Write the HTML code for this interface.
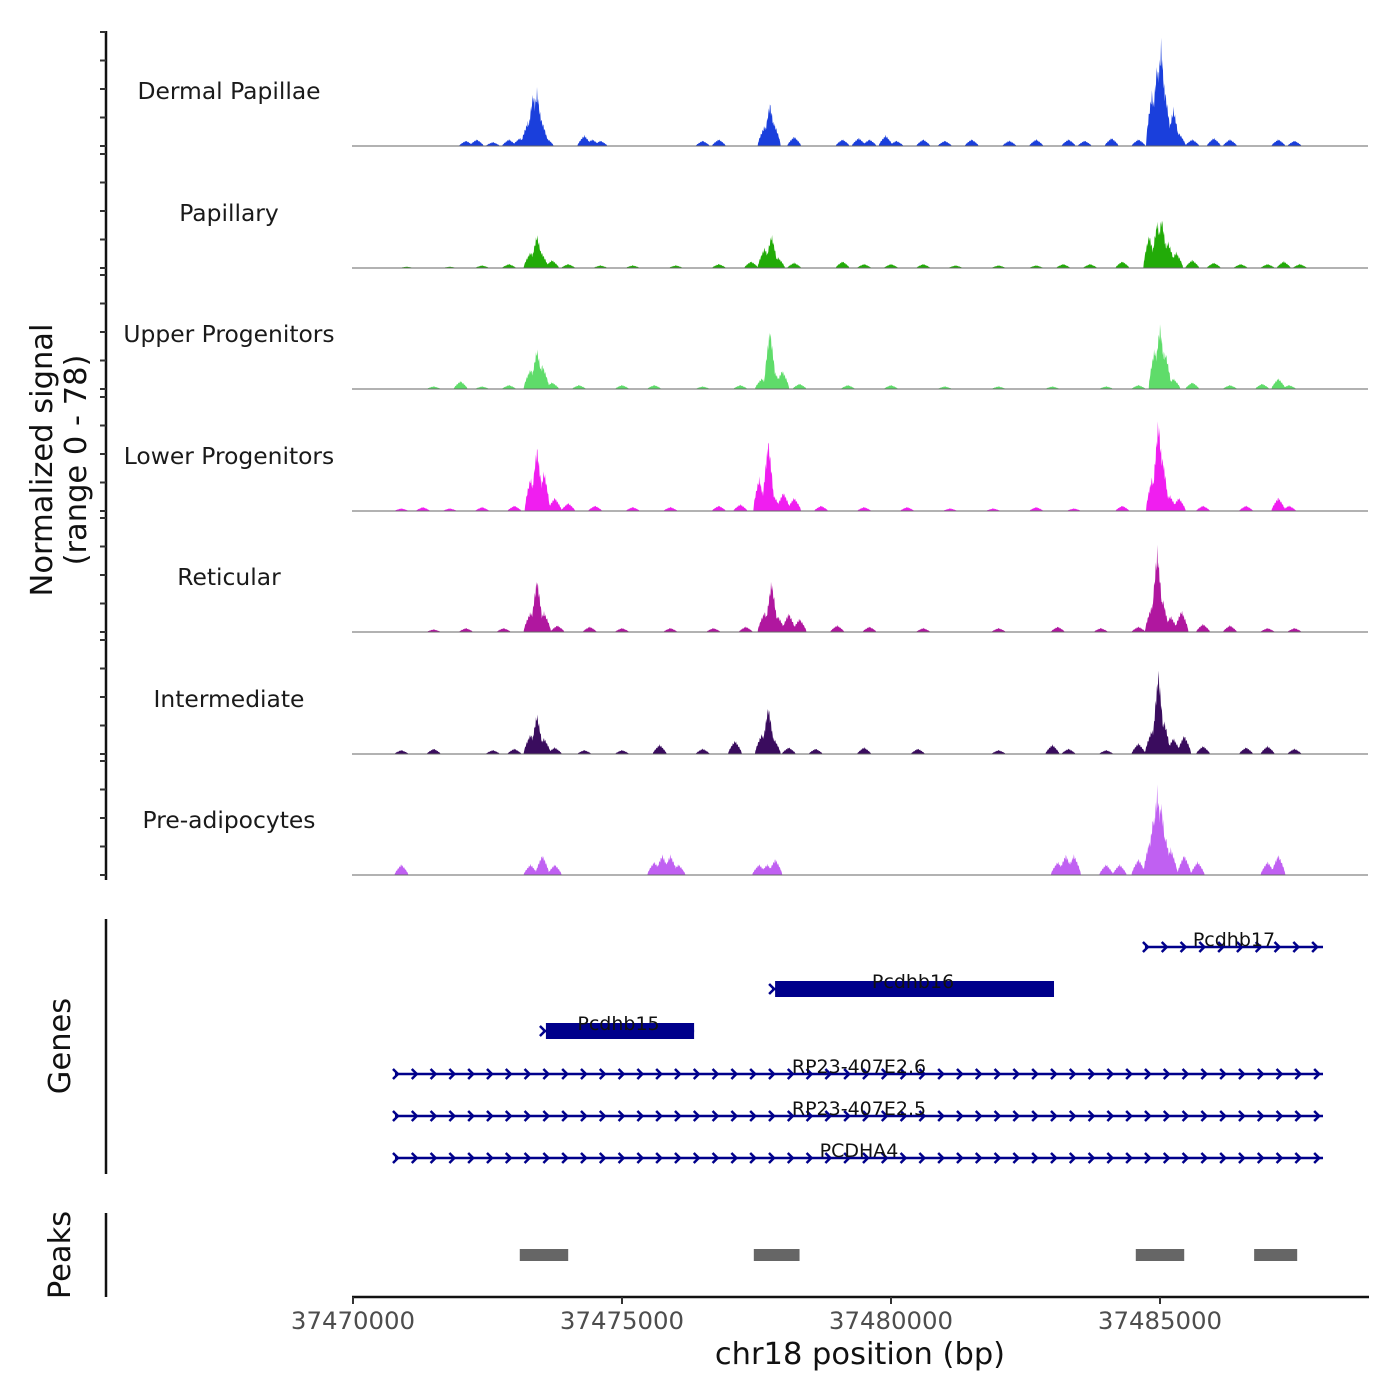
<!DOCTYPE html>
<html><head><meta charset="utf-8">
<style>
html,body{margin:0;padding:0;background:#fff;}
svg{display:block;font-family:"DejaVu Sans","Liberation Sans",sans-serif;}
</style></head>
<body>
<svg id="chart" width="1400" height="1400" viewBox="0 0 1400 1400" xmlns="http://www.w3.org/2000/svg">
<g id="tracks"></g>
<g id="genes"></g>
<g id="peaks"></g>
<g id="axes"></g>
</svg>
<script>
// ----- data (positions in kb offset from 37470000, values 0-78) -----
const trackNames = ["Dermal Papillae","Papillary","Upper Progenitors","Lower Progenitors","Reticular","Intermediate","Pre-adipocytes"];
const trackColors = ["#1a3fdc","#22ab08","#5fdc6a","#f01ef0","#b0179f","#3a0c5e","#c060f2"];
const dermalPos = [2.1,2.3,2.6,2.9,3.1,3.25,3.35,3.42,3.5,3.6,4.3,4.45,4.6,6.5,6.8,7.65,7.75,7.82,8.2,9.1,9.4,9.6,9.9,10.1,10.6,11.0,11.5,12.2,12.7,13.3,13.6,14.1,14.6,14.85,14.95,15.02,15.1,15.25,15.35,15.6,16.0,16.3,17.2,17.5];
const dermalVal = [4,5,3,5,6,18,40,42,20,6,8,5,4,4,5,15,32,18,7,5,6,5,8,4,5,4,5,4,5,5,4,6,5,40,62,77,40,28,10,5,6,5,5,4];
const papPos = [1.0,1.8,2.4,2.9,3.3,3.42,3.5,3.7,4.0,4.6,5.2,6.0,6.8,7.4,7.65,7.78,7.9,8.2,9.1,9.5,10.0,10.6,11.2,12.0,12.7,13.2,13.7,14.3,14.8,14.95,15.03,15.15,15.3,15.6,16.0,16.5,17.0,17.3,17.6];
const papVal = [1,1,2,3,12,25,12,6,3,2,2,2,3,5,15,25,8,4,5,3,3,3,2,2,2,3,3,5,25,35,38,20,12,6,4,3,3,5,3];
const upPos = [1.5,2.0,2.4,2.9,3.3,3.42,3.52,3.7,4.2,5.0,5.6,6.5,7.2,7.6,7.75,7.85,7.98,8.3,9.2,10.0,11.0,12.0,13.0,14.0,14.6,14.9,15.0,15.1,15.25,15.6,16.3,16.9,17.2,17.4];
const upVal = [2,6,2,3,15,30,18,5,3,3,3,2,3,8,45,12,14,4,3,3,2,2,2,2,3,30,48,28,8,5,3,4,8,3];
const lowPos = [0.9,1.3,1.8,2.4,3.0,3.3,3.42,3.55,3.75,4.0,4.5,5.2,5.9,6.8,7.2,7.55,7.72,7.82,8.0,8.2,8.7,9.5,10.3,11.1,11.9,12.7,13.4,14.3,14.85,14.97,15.05,15.18,15.35,15.8,16.6,17.2,17.4];
const lowVal = [2,3,2,3,4,25,48,30,10,6,4,3,3,4,5,25,53,12,14,10,4,3,3,2,2,3,2,4,25,68,40,12,10,4,4,10,4];
const retPos = [1.5,2.1,2.8,3.3,3.42,3.55,3.8,4.4,5.0,5.9,6.7,7.3,7.65,7.78,7.9,8.1,8.3,9.0,9.6,10.6,12.0,13.1,13.9,14.6,14.85,14.95,15.05,15.2,15.4,15.8,16.3,17.0,17.5];
const retVal = [2,3,3,15,40,15,5,4,3,3,3,4,15,38,12,14,10,5,4,3,3,4,3,4,20,62,25,12,16,6,5,3,3];
const intPos = [0.9,1.5,2.6,3.0,3.3,3.42,3.55,3.75,4.3,5.0,5.7,6.5,7.1,7.6,7.72,7.82,8.1,8.6,9.5,10.5,12.0,13.0,13.3,14.0,14.6,14.85,14.97,15.08,15.25,15.45,15.8,16.6,17.0,17.5];
const intVal = [3,4,3,4,15,30,12,5,3,3,7,4,10,15,36,12,5,4,5,4,3,7,4,3,8,18,62,25,12,14,6,5,6,4];
const prePos = [0.9,3.3,3.52,3.75,5.6,5.75,5.9,6.05,7.55,7.7,7.85,13.1,13.25,13.4,14.0,14.25,14.6,14.8,14.88,14.95,15.02,15.1,15.2,15.45,15.7,17.0,17.2];
const preVal = [8,8,15,8,10,15,15,8,8,8,12,10,15,15,8,8,12,25,45,65,55,30,20,15,10,10,15];
const trackPos = [dermalPos,papPos,upPos,lowPos,retPos,intPos,prePos];
const trackVal = [dermalVal,papVal,upVal,lowVal,retVal,intVal,preVal];

const geneNames = ["Pcdhb17","Pcdhb16","Pcdhb15","RP23-407E2.6","RP23-407E2.5","PCDHA4"];
const geneStart = [14.72,7.79,3.53,0.78,0.78,0.78];
const geneEnd = [18.03,13.03,6.34,18.03,18.03,18.03];
const geneThick = [false,true,true,false,false,false];
const peakStart = [3.1,7.45,14.55,16.75];
const peakEnd = [4.0,8.3,15.45,17.55];
const xTicks = [0,5,10,15];

// ----- scales -----
const X0 = 353, PXPERKB = 53.8;
const x = kb => X0 + kb * PXPERKB;
const baselines = [146,268,389,511,632,754,875];
const VSCALE = 1.41;
const NS = "http://www.w3.org/2000/svg";
function mk(tag, parent, attrs){const e=document.createElementNS(NS,tag);for(const k in attrs)e.setAttribute(k,attrs[k]);parent.appendChild(e);return e;}

// ----- signal tracks -----
const tg = document.getElementById('tracks');
trackNames.forEach((name,i)=>{
  const g = mk('g',tg,{});
  
  
  const b = baselines[i];
  const pos = trackPos[i], val = trackVal[i];
  const step = 0.01;
  let d = `M${x(0)},${b}`;
  for(let k=0;k<=18;k+=step){
    let v=0;
    for(let j=0;j<pos.length;j++){
      const w = val[j]>20?0.11:0.13;
      const dd=Math.abs(k-pos[j]);
      if(dd<w){const h=val[j]*Math.pow(1-dd/w,0.7)*(0.88+0.12*Math.cos(k*211+j));if(h>v)v=h;}
    }
    d+=` L${x(k).toFixed(1)},${(b-v*VSCALE).toFixed(1)}`;
  }
  d+=` L${x(18)},${b} Z`;
  const p = mk('path',g,{d:d,fill:trackColors[i],stroke:'none'});
  
  
  const bl = mk('line',g,{x1:352,x2:1368,y1:b,y2:b,stroke:'#666','stroke-width':1});
  
  
  const t = mk('text',g,{x:229,y:b-47,'text-anchor':'middle','font-size':23.4,fill:'#1a1a1a'});
  t.textContent = name;
  
  
});

// ----- genes -----
const gg = document.getElementById('genes');
const geneY = [947,989,1031,1074,1116,1158];
const navy = "#00008b";
geneNames.forEach((n,i)=>{
  const g = mk('g',gg,{});
  
  
  const y = geneY[i], x1=x(geneStart[i]), x2=x(geneEnd[i]);
  mk('line',g,{x1:x1,x2:x2,y1:y,y2:y,stroke:navy,'stroke-width':2.5});
  if(geneThick[i]){
    mk('rect',g,{x:x1+3,y:y-8,width:x2-x1-3,height:16,fill:navy});
    mk('path',g,{d:`M${x1-3},${y-5} L${x1+2},${y} L${x1-3},${y+5}`,stroke:navy,'stroke-width':2.5,fill:'none'});
  } else {
    for(let ax=x1+1; ax<=x2+1; ax+=18.8){
      mk('path',g,{d:`M${ax-3},${y-5} L${ax+2},${y} L${ax-3},${y+5}`,stroke:navy,'stroke-width':2.5,fill:'none'});
    }
  }
  const t = mk('text',g,{x:(x1+x2)/2,y:y-1,'text-anchor':'middle','font-size':19,fill:'#111'});
  t.textContent=n;
  
  
});

// ----- peaks -----
const pg = document.getElementById('peaks');
peakStart.forEach((s,i)=>{
  const r = mk('rect',pg,{x:x(s),y:1249,width:x(peakEnd[i])-x(s),height:12,fill:'#666'});
  
  
});

// ----- axes -----
const ag = document.getElementById('axes');
function line(p,a,name){const l=mk('line',p,a);return l;}
line(ag,{x1:106,x2:106,y1:31,y2:880,stroke:'#111','stroke-width':2.5},'signal-y-axis');
baselines.forEach(b=>{
  [0,28.5,57,85.5,114].forEach(o=>line(ag,{x1:100,x2:106,y1:b-o,y2:b-o,stroke:'#333','stroke-width':2},'y-tick'));
});
line(ag,{x1:106,x2:106,y1:919,y2:1174,stroke:'#111','stroke-width':2.5},'genes-axis');
line(ag,{x1:106,x2:106,y1:1213,y2:1297,stroke:'#111','stroke-width':2.5},'peaks-axis');
line(ag,{x1:352,x2:1369,y1:1297,y2:1297,stroke:'#111','stroke-width':2.5},'x-axis');
xTicks.forEach(t=>{
  line(ag,{x1:x(t),x2:x(t),y1:1297,y2:1304,stroke:'#333','stroke-width':2},'x-tick');
  const tx=mk('text',ag,{x:x(t),y:1329,'text-anchor':'middle','font-size':24.4,fill:'#4d4d4d'});
  tx.textContent=String(37470000+t*1000);
  
  
});
function txt(s,attrs,name){const t=mk('text',ag,attrs);t.textContent=s;}
txt('chr18 position (bp)',{x:860,y:1364,'text-anchor':'middle','font-size':30.5,fill:'#111'},'x-axis-title');
txt('Normalized signal',{x:0,y:0,transform:'translate(52,460) rotate(-90)','text-anchor':'middle','font-size':30.5,fill:'#111'},'y-axis-title');
txt('(range 0 - 78)',{x:0,y:0,transform:'translate(86,460) rotate(-90)','text-anchor':'middle','font-size':30.5,fill:'#111'},'y-axis-range');
txt('Genes',{x:0,y:0,transform:'translate(70,1046) rotate(-90)','text-anchor':'middle','font-size':30.5,fill:'#111'},'genes-title');
txt('Peaks',{x:0,y:0,transform:'translate(70,1255) rotate(-90)','text-anchor':'middle','font-size':30.5,fill:'#111'},'peaks-title');
</script>
</body></html>
